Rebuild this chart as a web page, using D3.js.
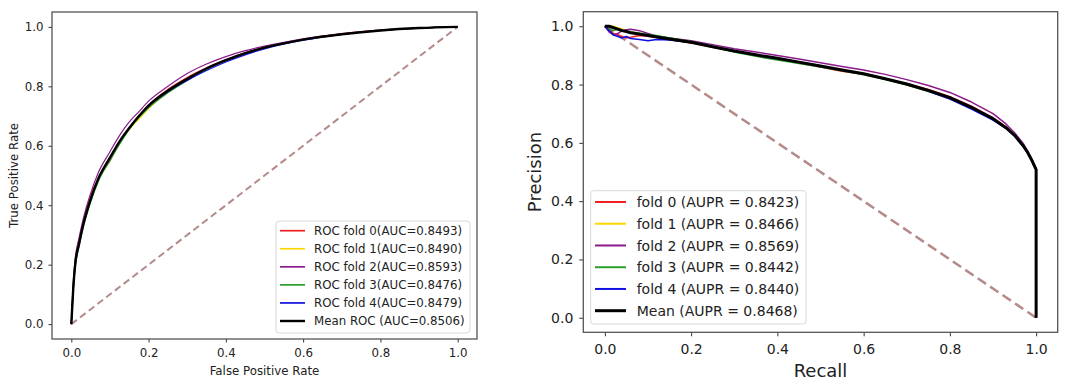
<!doctype html>
<html lang="en">
  <head>
    <meta charset="utf-8">
    <title>ROC and PR curves</title>
    <script src="https://d3js.org/d3.v7.min.js"></script>
    <style>
      body { margin: 0; background: #fff; }
      text { font-family: "DejaVu Sans", sans-serif; fill: #222; }
    </style>
  </head>

  <body>
    <svg width="1084" height="389"></svg>
    <script>
      // ROC curves, one TPR array per fold on a shared FPR grid
      var fprGrid = [0, 0.005, 0.01, 0.02, 0.03, 0.05, 0.07, 0.1, 0.125, 0.15, 0.175, 0.2, 0.25, 0.3, 0.35, 0.4, 0.45, 0.5, 0.6, 0.7, 0.8, 0.9, 1.0];
      var rocFold0 = [0, 0.13, 0.21, 0.28, 0.34, 0.43, 0.49, 0.55, 0.61, 0.66, 0.70, 0.737, 0.79, 0.83, 0.862, 0.89, 0.913, 0.931, 0.958, 0.977, 0.989, 0.996, 1.0];
      var rocFold1 = [0, 0.12, 0.20, 0.27, 0.33, 0.42, 0.49, 0.56, 0.61, 0.655, 0.69, 0.725, 0.78, 0.822, 0.858, 0.887, 0.911, 0.93, 0.957, 0.975, 0.988, 0.996, 1.0];
      var rocFold2 = [0, 0.14, 0.22, 0.29, 0.35, 0.44, 0.51, 0.58, 0.635, 0.68, 0.715, 0.75, 0.80, 0.843, 0.875, 0.90, 0.92, 0.935, 0.96, 0.976, 0.989, 0.996, 1.0];
      var rocFold3 = [0, 0.11, 0.19, 0.26, 0.32, 0.41, 0.48, 0.55, 0.605, 0.655, 0.695, 0.728, 0.778, 0.82, 0.857, 0.886, 0.91, 0.929, 0.956, 0.975, 0.988, 0.996, 1.0];
      var rocFold4 = [0, 0.12, 0.20, 0.27, 0.33, 0.42, 0.49, 0.56, 0.615, 0.66, 0.70, 0.733, 0.782, 0.82, 0.853, 0.882, 0.906, 0.926, 0.955, 0.975, 0.988, 0.996, 1.0];
      var rocMean  = [0, 0.12, 0.20, 0.27, 0.33, 0.42, 0.49, 0.56, 0.615, 0.66, 0.70, 0.735, 0.785, 0.825, 0.86, 0.888, 0.912, 0.93, 0.957, 0.975, 0.988, 0.996, 1.0];
      var rocLabels = ['ROC fold 0(AUC=0.8493)', 'ROC fold 1(AUC=0.8490)', 'ROC fold 2(AUC=0.8593)',
                       'ROC fold 3(AUC=0.8476)', 'ROC fold 4(AUC=0.8479)', 'Mean ROC (AUC=0.8506)'];

      // PR curves, one precision array per fold on a shared recall grid
      var recallGrid = [0, 0.01, 0.02, 0.03, 0.04, 0.05, 0.06, 0.08, 0.1, 0.12, 0.15, 0.2, 0.25, 0.3, 0.35, 0.4, 0.45, 0.5, 0.55, 0.6, 0.65, 0.7, 0.75, 0.8, 0.85, 0.9, 0.93, 0.95, 0.97, 0.98, 0.99, 1.0, 1.0];
      var prFold0 = [1.0, 0.99, 0.975, 0.97, 0.965, 0.96, 0.962, 0.968, 0.966, 0.962, 0.955, 0.943, 0.928, 0.913, 0.90, 0.888, 0.874, 0.86, 0.846, 0.835, 0.82, 0.803, 0.783, 0.758, 0.726, 0.686, 0.655, 0.628, 0.592, 0.57, 0.542, 0.508, 0];
      var prFold1 = [1.0, 1.0, 1.0, 0.995, 0.99, 0.985, 0.98, 0.975, 0.97, 0.965, 0.958, 0.946, 0.93, 0.914, 0.90, 0.888, 0.875, 0.862, 0.848, 0.835, 0.818, 0.798, 0.776, 0.752, 0.72, 0.682, 0.651, 0.625, 0.59, 0.567, 0.54, 0.508, 0];
      var prFold2 = [1.0, 0.98, 0.97, 0.975, 0.985, 0.988, 0.99, 0.985, 0.975, 0.966, 0.96, 0.95, 0.937, 0.923, 0.912, 0.90, 0.888, 0.875, 0.862, 0.85, 0.835, 0.817, 0.797, 0.773, 0.74, 0.70, 0.665, 0.635, 0.598, 0.572, 0.545, 0.51, 0];
      var prFold3 = [1.0, 0.99, 0.985, 0.99, 0.985, 0.982, 0.98, 0.977, 0.972, 0.968, 0.96, 0.948, 0.93, 0.912, 0.897, 0.884, 0.872, 0.86, 0.847, 0.834, 0.817, 0.798, 0.777, 0.752, 0.722, 0.683, 0.652, 0.626, 0.59, 0.567, 0.54, 0.508, 0];
      var prFold4 = [1.0, 0.985, 0.97, 0.965, 0.96, 0.965, 0.958, 0.955, 0.95, 0.955, 0.953, 0.944, 0.93, 0.914, 0.901, 0.889, 0.876, 0.863, 0.849, 0.836, 0.819, 0.80, 0.777, 0.75, 0.716, 0.678, 0.65, 0.624, 0.588, 0.566, 0.54, 0.508, 0];
      var prMean  = [1.0, 1.0, 0.995, 0.99, 0.985, 0.982, 0.978, 0.973, 0.968, 0.963, 0.956, 0.945, 0.93, 0.915, 0.902, 0.89, 0.877, 0.864, 0.85, 0.837, 0.82, 0.802, 0.78, 0.755, 0.722, 0.683, 0.652, 0.626, 0.59, 0.568, 0.54, 0.508, 0];
      var prLabels = ['fold 0 (AUPR = 0.8423)', 'fold 1 (AUPR = 0.8466)', 'fold 2 (AUPR = 0.8569)',
                      'fold 3 (AUPR = 0.8442)', 'fold 4 (AUPR = 0.8440)', 'Mean (AUPR = 0.8468)'];

      var ticks = [0, 0.2, 0.4, 0.6, 0.8, 1.0];
      var colors = ['#f02020', '#ffd700', '#8b1a8b', '#2ca02c', '#1010e0', '#000000'];
      var diagColor = '#b58a8a';

      var svg = d3.select('svg');

      function drawPanel(cfg) {
        var x = d3.scaleLinear().domain([-0.05, 1.05]).range([cfg.left, cfg.right]);
        var y = d3.scaleLinear().domain([-0.05, 1.05]).range([cfg.bottom, cfg.top]);
        var g = svg.append('g');

        // diagonal chance line
        g.append('line')
          .attr('x1', x(cfg.diag[0][0])).attr('y1', y(cfg.diag[0][1]))
          .attr('x2', x(cfg.diag[1][0])).attr('y2', y(cfg.diag[1][1]))
          .style('stroke', diagColor)
          .style('stroke-width', cfg.diagWidth)
          .style('stroke-dasharray', cfg.dash);

        var line = d3.line()
          .x(function(d){ return x(d[0]); })
          .y(function(d){ return y(d[1]); })
          .curve(cfg.curve);

        cfg.series.forEach(function(s, i){
          var pts = cfg.grid.map(function(v, j){ return [v, s[j]]; });
          g.append('path')
            .attr('d', line(pts))
            .style('fill', 'none')
            .style('stroke', colors[i])
            .style('stroke-width', i === 5 ? cfg.meanWidth : cfg.foldWidth)
            .style('stroke-linejoin', 'round');
        });

        var xAxis = g.append('g')
          .attr('transform', 'translate(0,' + cfg.bottom + ')')
          .call(d3.axisBottom(x).tickValues(ticks).tickFormat(d3.format('.1f'))
            .tickSize(cfg.tickLen).tickPadding(cfg.xPad));
        var yAxis = g.append('g')
          .attr('transform', 'translate(' + cfg.left + ',0)')
          .call(d3.axisLeft(y).tickValues(ticks).tickFormat(d3.format('.1f'))
            .tickSize(cfg.tickLen).tickPadding(cfg.yPad));
        [xAxis, yAxis].forEach(function(a){
          a.select('.domain').remove();
          a.selectAll('line').style('stroke', '#333');
          a.selectAll('text').style('font-size', cfg.tickFont + 'px').style('font-family', '"DejaVu Sans", sans-serif').style('fill', '#222');
        });

        // frame
        g.append('rect')
          .attr('x', cfg.left).attr('y', cfg.top)
          .attr('width', cfg.right - cfg.left).attr('height', cfg.bottom - cfg.top)
          .style('fill', 'none').style('stroke', '#555').style('stroke-width', 1.3);

        g.append('text')
          .attr('x', (cfg.left + cfg.right) / 2).attr('y', cfg.xLabelY)
          .attr('text-anchor', 'middle')
          .style('font-size', cfg.labelFont + 'px')
          .text(cfg.xLabel);
        g.append('text')
          .attr('transform', 'translate(' + cfg.yLabelX + ',' + (cfg.top + cfg.bottom) / 2 + ') rotate(-90)')
          .attr('text-anchor', 'middle')
          .style('font-size', cfg.labelFont + 'px')
          .text(cfg.yLabel);

        // legend
        var L = cfg.legend;
        g.append('rect')
          .attr('x', L.x0).attr('y', L.y0)
          .attr('width', L.x1 - L.x0).attr('height', L.y1 - L.y0)
          .attr('rx', 3)
          .style('fill', 'rgba(255,255,255,0.85)')
          .style('stroke', '#d8d8d8');
        cfg.labels.forEach(function(lab, i){
          var yy = L.row0 + i * L.step;
          g.append('line')
            .attr('x1', L.h0).attr('x2', L.h1).attr('y1', yy).attr('y2', yy)
            .style('stroke', colors[i])
            .style('stroke-width', i === 5 ? cfg.meanWidth : cfg.foldWidth + 0.5);
          g.append('text')
            .attr('x', L.tx).attr('y', yy).attr('dy', '0.36em')
            .style('font-size', L.font + 'px')
            .text(lab);
        });
      }

      drawPanel({
        left: 52, right: 477, top: 12, bottom: 339,
        grid: fprGrid,
        series: [rocFold0, rocFold1, rocFold2, rocFold3, rocFold4, rocMean],
        labels: rocLabels,
        diag: [[0, 0], [1, 1]],
        curve: d3.curveMonotoneX,
        foldWidth: 1.2, meanWidth: 2.4, diagWidth: 2, dash: '7,4',
        tickLen: 3.5, xPad: 6, yPad: 5, tickFont: 11.8, labelFont: 11.8,
        xLabel: 'False Positive Rate', xLabelY: 375,
        yLabel: 'True Positive Rate', yLabelX: 17.5,
        legend: { x0: 276, x1: 470, y0: 221, y1: 333, row0: 230.7, step: 18.06,
                  h0: 280, h1: 305, tx: 314, font: 11.8 }
      });

      drawPanel({
        left: 583.3, right: 1057.7, top: 11.7, bottom: 332.3,
        grid: recallGrid,
        series: [prFold0, prFold1, prFold2, prFold3, prFold4, prMean],
        labels: prLabels,
        diag: [[0, 1], [1, 0]],
        curve: d3.curveLinear,
        foldWidth: 1.5, meanWidth: 3, diagWidth: 2.5, dash: '10,5',
        tickLen: 4, xPad: 7.5, yPad: 6, tickFont: 14, labelFont: 18,
        xLabel: 'Recall', xLabelY: 377,
        yLabel: 'Precision', yLabelX: 541,
        legend: { x0: 590.7, x1: 806, y0: 190.7, y1: 324, row0: 202, step: 21.74,
                  h0: 595, h1: 626, tx: 636.7, font: 14 }
      });
    </script>
  </body>
</html>
